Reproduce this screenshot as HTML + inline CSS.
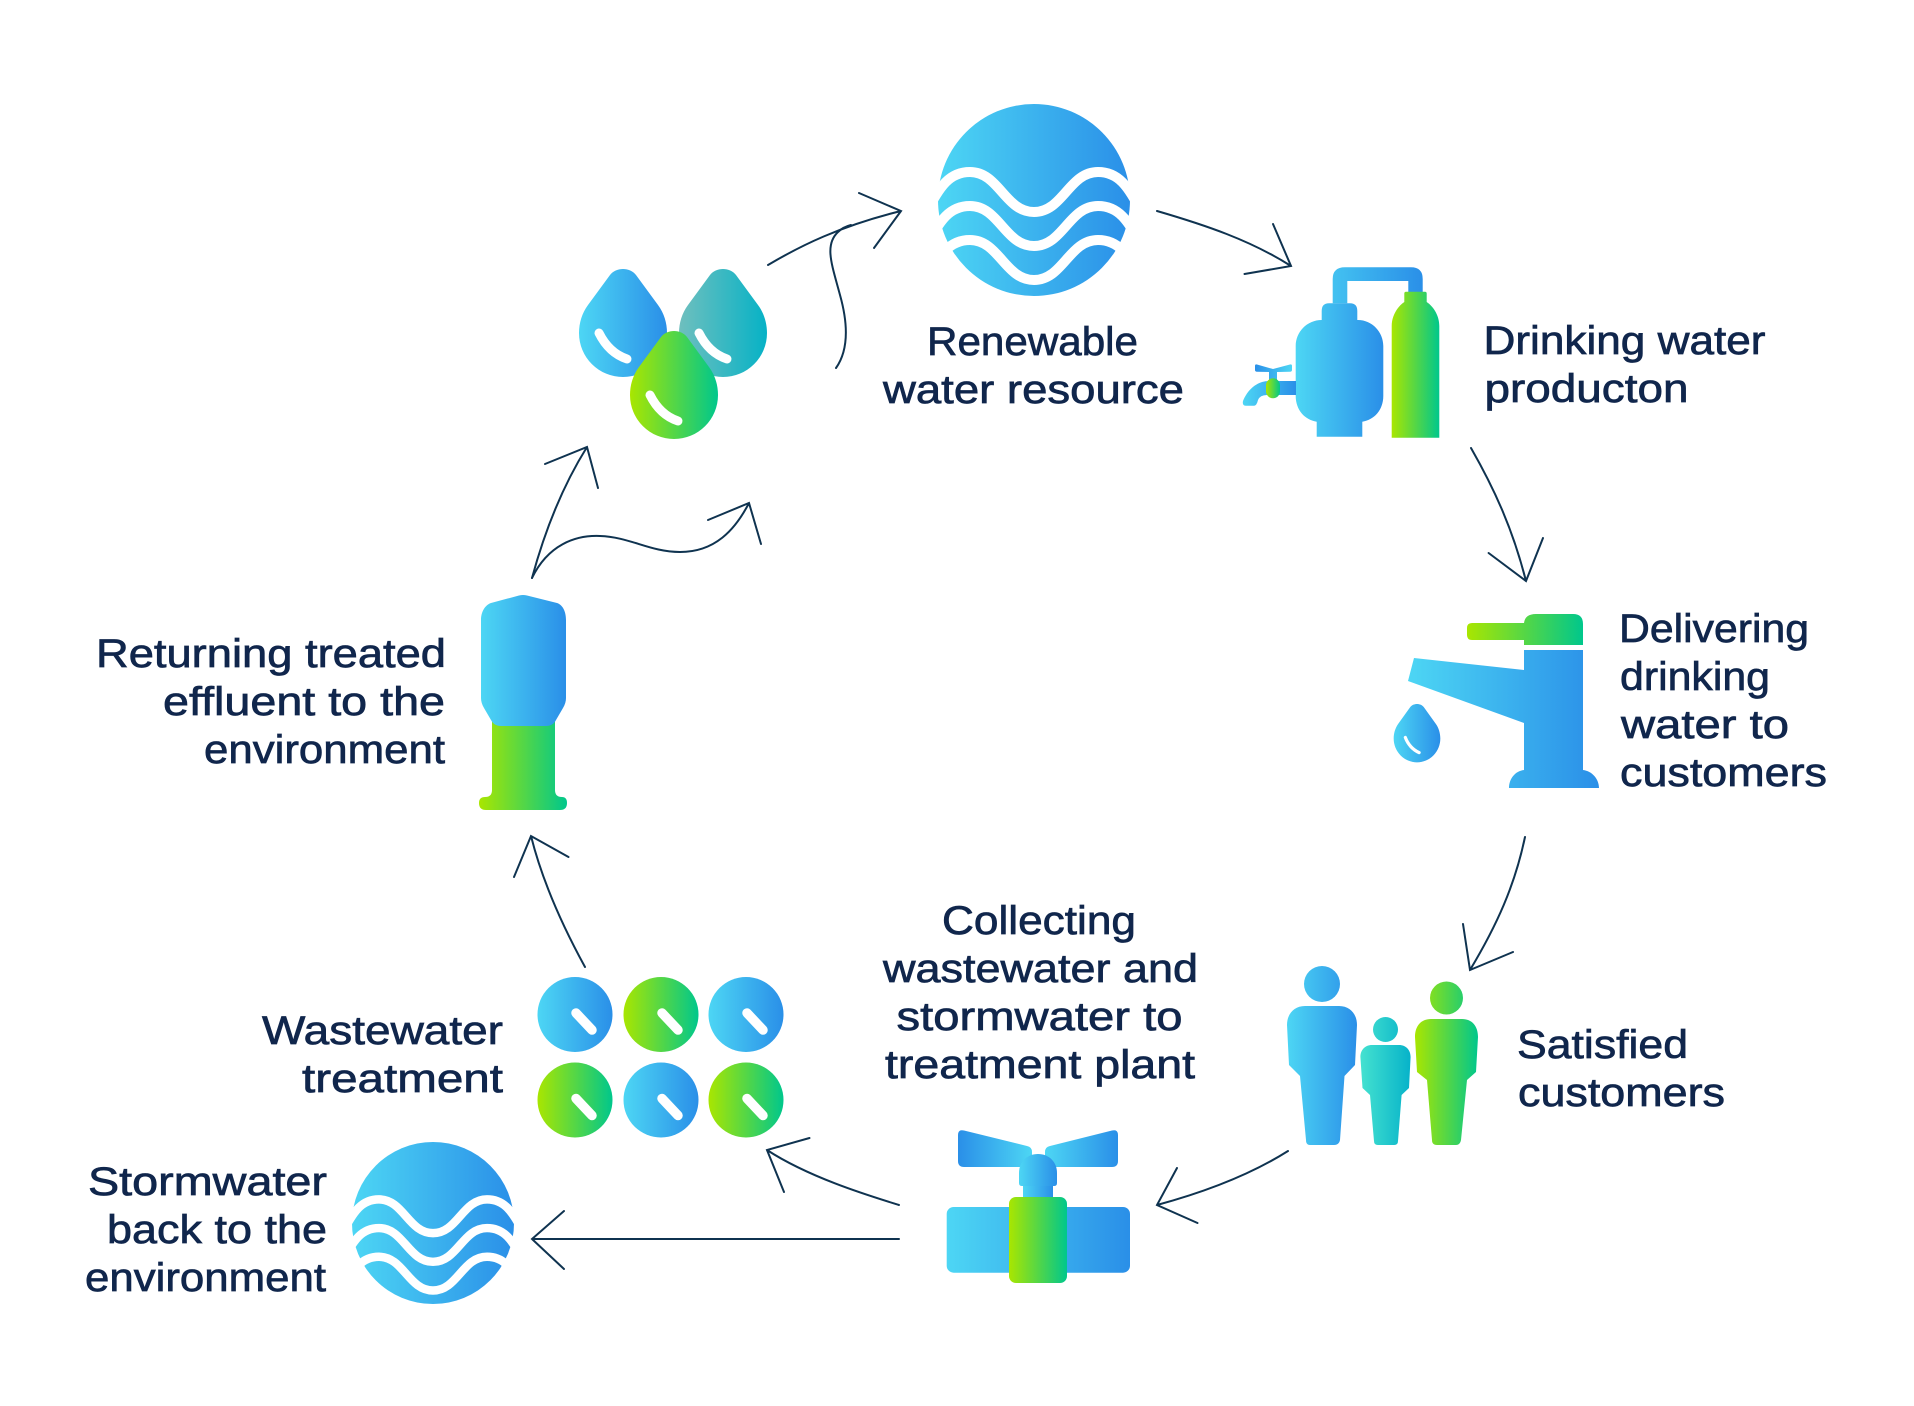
<!DOCTYPE html>
<html>
<head>
<meta charset="utf-8">
<style>
html,body{margin:0;padding:0;background:#fff;width:1914px;height:1406px;overflow:hidden}
svg{display:block}
text{font-family:"Liberation Sans",sans-serif;font-size:39.5px;fill:#10264c;stroke:#10264c;stroke-width:.7px}
.a{fill:none;stroke:#0f3350;stroke-width:2;stroke-linecap:round;stroke-linejoin:miter}
.w{fill:none;stroke:#fff;stroke-width:10}
.h{fill:none;stroke:#fff;stroke-width:9;stroke-linecap:round}
</style>
</head>
<body>
<svg width="1914" height="1406" viewBox="0 0 1914 1406" xmlns="http://www.w3.org/2000/svg">
<defs>
<linearGradient id="b" x1="0" x2="1" y1="0" y2="0"><stop offset="0" stop-color="#4dd6f4"/><stop offset="1" stop-color="#2a8fe8"/></linearGradient>
<linearGradient id="br" x1="1" x2="0" y1="0" y2="0"><stop offset="0" stop-color="#4dd6f4"/><stop offset="1" stop-color="#2a8fe8"/></linearGradient>
<linearGradient id="g" x1="0" x2="1" y1="0" y2="0"><stop offset="0" stop-color="#a9e600"/><stop offset="1" stop-color="#00c78c"/></linearGradient>
<linearGradient id="t" x1="0" x2="1" y1="0" y2="0"><stop offset="0" stop-color="#6fbfbe"/><stop offset="1" stop-color="#06b2c6"/></linearGradient>
<linearGradient id="m1" gradientUnits="userSpaceOnUse" x1="1287" x2="1357" y1="0" y2="0"><stop offset="0" stop-color="#4dd6f4"/><stop offset="1" stop-color="#2a8fe8"/></linearGradient>
<linearGradient id="m2" gradientUnits="userSpaceOnUse" x1="1415" x2="1478" y1="0" y2="0"><stop offset="0" stop-color="#a9e600"/><stop offset="1" stop-color="#00c78c"/></linearGradient>
<linearGradient id="m3" gradientUnits="userSpaceOnUse" x1="1360" x2="1411" y1="0" y2="0"><stop offset="0" stop-color="#45e2d0"/><stop offset="1" stop-color="#06b2c9"/></linearGradient>
<linearGradient id="p1" gradientUnits="userSpaceOnUse" x1="1296" x2="1423" y1="0" y2="0"><stop offset="0" stop-color="#4dd6f4"/><stop offset="1" stop-color="#2a8fe8"/></linearGradient>
<g id="wave">
<circle cx="1034" cy="200" r="96" fill="url(#b)"/>
<path class="w" d="M925 215C940 185 950 172 970 172C999 172 1005 212 1034 212C1063 212 1069 172 1098 172C1118 172 1128 185 1143 215"/>
<path class="w" transform="translate(0,34)" d="M925 215C940 185 950 172 970 172C999 172 1005 212 1034 212C1063 212 1069 172 1098 172C1118 172 1128 185 1143 215"/>
<path class="w" transform="translate(0,68)" d="M925 215C940 185 950 172 970 172C999 172 1005 212 1034 212C1063 212 1069 172 1098 172C1118 172 1128 185 1143 215"/>
</g>
</defs>
<rect width="1914" height="1406" fill="#fff"/>

<!-- water circles -->
<use href="#wave"/>
<use href="#wave" transform="translate(433,1223) scale(.844) translate(-1034,-200)"/>

<!-- tank -->
<path fill="url(#p1)" d="M1332.7 303.3V279Q1332.7 267.3 1345 267.3H1411Q1422.7 267.3 1422.7 279V292H1408.3V281H1347.3V303.3Z"/>
<path fill="url(#g)" d="M1406 291.7H1425Q1426.7 291.7 1426.7 293.5V302C1434 307 1439.3 316 1439.3 326V437.7H1391.7V326C1391.7 316 1397 307 1404.3 302V293.5Q1404.3 291.7 1406 291.7Z"/>
<path fill="url(#b)" d="M1321.7 320V311Q1321.7 303.3 1329 303.3H1350Q1357.3 303.3 1357.3 311V320H1358C1372 320 1383.3 332 1383.3 346V396C1383.3 410 1374 420 1362.3 421.7V436.7H1316.7V421.7C1305 420 1295.7 410 1295.7 396V346C1295.7 332 1307 320 1321.7 320Z"/>
<path fill="url(#br)" d="M1255 366Q1255 364 1257 364.500L1273 369L1290 364.500Q1292 364 1292 366V370Q1292 371.700 1290 371.700L1277 372V380H1269V372L1257 371.700Q1255 371.700 1255 370Z"/>
<path fill="url(#b)" d="M1296 381H1269C1256 381 1247 391 1243 401Q1242 405.700 1246 405.700H1254Q1256.700 405.700 1258 400Q1260 395 1267 395H1296Z"/>
<rect x="1266" y="378.300" width="14" height="20" rx="7" fill="url(#g)"/>

<!-- drops -->
<g transform="translate(623,269)"><path fill="url(#b)" d="M-13 6C-7 -2 7 -2 13 6L35 36C41 44 44 54 44 64A43.5 43.5 0 0 1 -44 64C-44 54 -41 44 -35 36Z"/><path class="h" d="M-24 64Q-14 84 4 90"/></g>
<g transform="translate(723,269)"><path fill="url(#t)" d="M-13 6C-7 -2 7 -2 13 6L35 36C41 44 44 54 44 64A43.5 43.5 0 0 1 -44 64C-44 54 -41 44 -35 36Z"/><path class="h" d="M-24 64Q-14 84 4 90"/></g>
<g transform="translate(674,331)"><path fill="url(#g)" d="M-13 6C-7 -2 7 -2 13 6L35 36C41 44 44 54 44 64A43.5 43.5 0 0 1 -44 64C-44 54 -41 44 -35 36Z"/><path class="h" d="M-24 64Q-14 84 4 90"/></g>

<!-- faucet -->
<path fill="url(#g)" d="M1472 623H1524Q1525 614 1536 614H1573Q1583 614 1583 624V645H1524V640H1472Q1467 640 1467 635V628Q1467 623 1472 623Z"/>
<path fill="url(#b)" d="M1414 658L1524 670V650H1583V770C1592 771 1599 779 1599 788H1509C1509 779 1515 771 1524 770V723L1408 681Z"/>
<g transform="translate(1417,704) scale(.53,.54)"><path fill="url(#b)" d="M-13 6C-7 -2 7 -2 13 6L35 36C41 44 44 54 44 64A43.5 43.5 0 0 1 -44 64C-44 54 -41 44 -35 36Z"/><path fill="none" stroke="#fff" stroke-width="6" stroke-linecap="round" d="M-22 62Q-14 82 4 90"/></g>

<!-- people -->
<ellipse cx="1322" cy="984" rx="18" ry="18" fill="url(#m1)"/>
<path fill="url(#m1)" d="M1305 1006H1339C1350 1006 1357 1014 1357 1025L1355 1065L1344.500 1076L1340 1140Q1339 1145 1334 1145H1310Q1306 1145 1306 1140L1300 1076L1289 1065L1287 1025C1287 1014 1294 1006 1305 1006Z"/>
<ellipse cx="1385.500" cy="1029.500" rx="12.500" ry="12.500" fill="url(#m3)"/>
<path fill="url(#m3)" d="M1372 1045H1399C1406 1045 1410.600 1050 1410.600 1057L1409 1088L1401.600 1095L1398 1141Q1398 1145 1394 1145H1378Q1374 1145 1374 1141L1370 1095L1362.500 1088L1360.400 1057C1360.400 1050 1365 1045 1372 1045Z"/>
<ellipse cx="1446.500" cy="998" rx="16.500" ry="16.500" fill="url(#m2)"/>
<path fill="url(#m2)" d="M1431 1019H1462C1472 1019 1478 1026 1478 1037L1476 1072L1467 1080L1461 1140Q1460 1145 1456 1145H1437Q1432 1145 1432 1140L1427 1080L1417 1072L1415 1037C1415 1026 1421 1019 1431 1019Z"/>

<!-- valve -->
<rect x="946.700" y="1207" width="183.300" height="65.700" rx="7" fill="url(#b)"/>
<rect x="1023" y="1180" width="30" height="20" fill="url(#b)"/>
<path fill="url(#br)" d="M958 1135Q958 1129 964 1130.500L1027 1146Q1032 1147 1032 1152V1167H964Q958 1167 958 1161Z"/>
<path fill="url(#b)" d="M1118 1135Q1118 1129 1112 1130.500L1050 1146Q1045 1147 1045 1152V1167H1112Q1118 1167 1118 1161Z"/>
<path fill="url(#b)" d="M1019 1173C1019 1162 1027 1154 1038 1154C1049 1154 1057 1162 1057 1173V1183Q1057 1186 1054 1186H1022Q1019 1186 1019 1183Z"/>
<rect x="1009" y="1197" width="58" height="86" rx="7" fill="url(#g)"/>

<!-- pills -->
<g>
<circle cx="575" cy="1014.500" r="37.500" fill="url(#b)"/>
<circle cx="661" cy="1014.500" r="37.500" fill="url(#g)"/>
<circle cx="746" cy="1014.500" r="37.500" fill="url(#b)"/>
<circle cx="575" cy="1100" r="37.500" fill="url(#g)"/>
<circle cx="661" cy="1100" r="37.500" fill="url(#b)"/>
<circle cx="746" cy="1100" r="37.500" fill="url(#g)"/>
<g fill="none" stroke="#fff" stroke-width="9.500" stroke-linecap="round">
<path d="M576 1013L592 1030M662 1013L678 1030M747 1013L763 1030M576 1098.500L592 1115.500M662 1098.500L678 1115.500M747 1098.500L763 1115.500"/>
</g>
</g>

<!-- tower -->
<path fill="url(#g)" d="M492 720H555V790Q555 797 562 797Q567 797 567 803Q567 810 560 810H486Q479 810 479 803Q479 797 485 797Q492 797 492 790Z"/>
<path fill="url(#b)" d="M491 603L519 595.500Q523 594.500 527 595.500L557 603C563 605 566 612 566 620V698Q566 703 563 708L556 720Q553 726 546 726H501Q494 726 491 720L484 708Q481 703 481 698V620C481 612 485 605 491 603Z"/>

<!-- arrows -->
<g class="a">
<path d="M768 265C800 246 840 226 901 211M859 193L901 211L874 248"/>
<path d="M836 368C850 348 847 320 840 295C832 265 824 245 838 232C842 228 847 226 851 225"/>
<path d="M1157 211C1205 225 1250 240 1291 266M1273 224L1291 266L1244.500 274"/>
<path d="M1471 448C1495 490 1513 530 1526 581M1488.600 553L1526 581L1543 538"/>
<path d="M1525 837C1515 885 1497 925 1470 970M1463 924L1470 970L1513 952"/>
<path d="M1288 1151C1250 1175 1205 1192 1157 1205M1177 1168L1157 1205L1197.500 1223"/>
<path d="M899 1205C870 1196 810 1178 767 1150M809.500 1138L767 1150L784 1192"/>
<path d="M899 1239H532M564 1211L532 1239L564 1269"/>
<path d="M585 967C562 925 542 880 531 836M514 877L531 836L568.500 857"/>
<path d="M532 578C545 530 562 487 587 447M545 464L587 447L598 488"/>
<path d="M532 578C548 545 575 535 600 536C630 537 650 552 680 552C715 552 735 530 749 503M708 520L749 503L761 544"/>
</g>

<!-- labels -->
<text x="927" y="355" textLength="211" lengthAdjust="spacingAndGlyphs">Renewable</text>
<text x="883" y="403" textLength="301" lengthAdjust="spacingAndGlyphs">water resource</text>
<text x="1483.500" y="354" textLength="282" lengthAdjust="spacingAndGlyphs">Drinking water</text>
<text x="1484.500" y="402" textLength="204" lengthAdjust="spacingAndGlyphs">producton</text>
<text x="1619" y="642" textLength="190" lengthAdjust="spacingAndGlyphs">Delivering</text>
<text x="1620" y="690" textLength="150" lengthAdjust="spacingAndGlyphs">drinking</text>
<text x="1621" y="738" textLength="168" lengthAdjust="spacingAndGlyphs">water to</text>
<text x="1620" y="786" textLength="207" lengthAdjust="spacingAndGlyphs">customers</text>
<text x="1517" y="1058" textLength="171" lengthAdjust="spacingAndGlyphs">Satisfied</text>
<text x="1518" y="1106" textLength="207" lengthAdjust="spacingAndGlyphs">customers</text>
<text x="942" y="934" textLength="194" lengthAdjust="spacingAndGlyphs">Collecting</text>
<text x="883" y="982" textLength="315" lengthAdjust="spacingAndGlyphs">wastewater and</text>
<text x="896.500" y="1030" textLength="286" lengthAdjust="spacingAndGlyphs">stormwater to</text>
<text x="885" y="1078" textLength="310" lengthAdjust="spacingAndGlyphs">treatment plant</text>
<text x="262" y="1044" textLength="241" lengthAdjust="spacingAndGlyphs">Wastewater</text>
<text x="302" y="1092" textLength="201" lengthAdjust="spacingAndGlyphs">treatment</text>
<text x="88" y="1195" textLength="239" lengthAdjust="spacingAndGlyphs">Stormwater</text>
<text x="107" y="1243" textLength="220" lengthAdjust="spacingAndGlyphs">back to the</text>
<text x="85" y="1291" textLength="241" lengthAdjust="spacingAndGlyphs">environment</text>
<text x="96" y="667" textLength="350" lengthAdjust="spacingAndGlyphs">Returning treated</text>
<text x="163" y="715" textLength="282" lengthAdjust="spacingAndGlyphs">effluent to the</text>
<text x="204" y="763" textLength="241" lengthAdjust="spacingAndGlyphs">environment</text>
</svg>
</body>
</html>
